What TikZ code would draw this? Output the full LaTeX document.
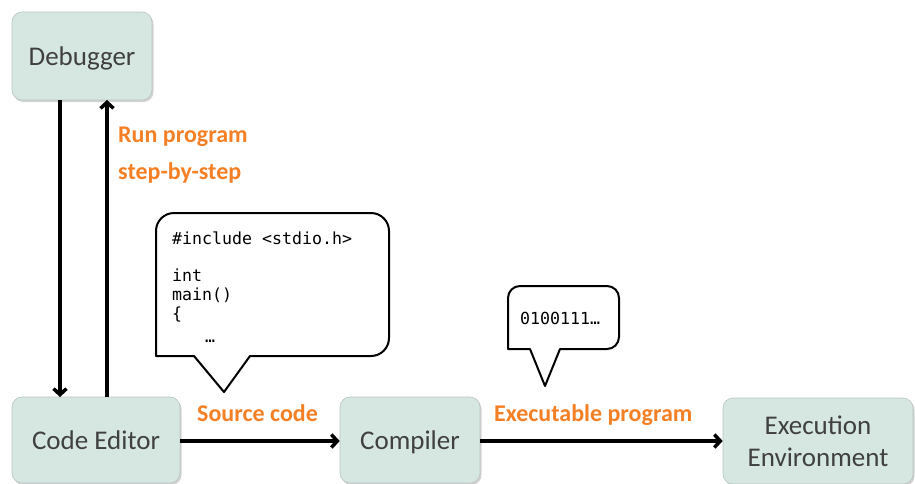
\documentclass[tikz,border=0pt]{standalone}
\usepackage{fontspec}
\setmainfont{Carlito}
\setmonofont{DejaVu Sans Mono}
\usetikzlibrary{arrows.meta,shadows}
\definecolor{boxfill}{HTML}{D6E7E1}
\definecolor{boxline}{HTML}{B8C4C0}
\definecolor{txtgray}{HTML}{404040}
\definecolor{orangelbl}{HTML}{F47F24}
\begin{document}
\begin{tikzpicture}[x=1pt,y=-1pt,
  procbox/.style={draw=boxline, line width=0.6pt, fill=boxfill, rounded corners=10pt,
    drop shadow={shadow xshift=1.5pt, shadow yshift=-2pt, fill=black!35, opacity=0.5},
    text=txtgray, font=\fontsize{27}{32}\selectfont, align=center, inner sep=0pt},
  oneline/.style={text height=19pt, text depth=0pt},
  flow/.style={-{Straight Barb[length=6pt,width=13pt,line width=3.5pt]}, line width=3.5pt, black},
  lbl/.style={text=orangelbl, font=\bfseries\fontsize{24}{28}\selectfont, anchor=base west, inner sep=0pt},
  callout/.style={draw=black, line width=2pt, fill=white, line join=round},
  code/.style={font=\ttfamily\fontsize{16.6}{19}\selectfont, anchor=base west, inner sep=0pt, align=left}
]
\useasboundingbox (0,0) rectangle (915,483);

% boxes
\node[procbox, oneline, minimum width=140pt, minimum height=88pt] (dbg) at (82,56) {Debugger};
\node[procbox, oneline, minimum width=168pt, minimum height=86pt] (ed) at (96,440) {Code Editor};
\node[procbox, oneline, minimum width=140pt, minimum height=86pt] (cmp) at (410,440) {Compiler};
\node[procbox, minimum width=190pt, minimum height=86pt] (env) at (818,441) {Execution\\Environment};

% vertical arrows
\coordinate (d1) at (60,100);
\coordinate (d2) at (60,397);
\coordinate (u1) at (107,397);
\coordinate (u2) at (107,100);
\draw[flow] (d1) -- (d2);
\draw[flow] (u1) -- (u2);

% horizontal arrows
\draw[flow] (ed.east |- 0,441) -- (cmp.west |- 0,441);
\draw[flow] (cmp.east |- 0,441) -- (env.west |- 0,441);

% labels
\node[lbl] (rp) at (118,142) {Run program};
\node[lbl] (sbs) at (118,179) {step-by-step};
\node[lbl] (sc) at (197,421) {Source code};
\node[lbl] (ep) at (494,421) {Executable program};

% callout 1
\draw[callout] (194,356) -- (156,356) [rounded corners=18pt] -- (156,213) -- (389,213) -- (389,356) [sharp corners] -- (250,356) -- (224,392) -- cycle;
\node[code] (c1) at (172,244) {\#include <stdio.h>};
\node[code] (c2) at (172,281) {int};
\node[code] (c3) at (172,300) {main()};
\node[code] (c4) at (172,319) {\{};
\node[code] (c5) at (205,342) {…};

% callout 2
\draw[callout] (530,349) -- (508,349) [rounded corners=12pt] -- (508,286) -- (619,286) -- (619,349) [sharp corners] -- (560,349) -- (545,386) -- cycle;
\node[code] (bin) at (520,324) {0100111…};
\end{tikzpicture}
\end{document}
